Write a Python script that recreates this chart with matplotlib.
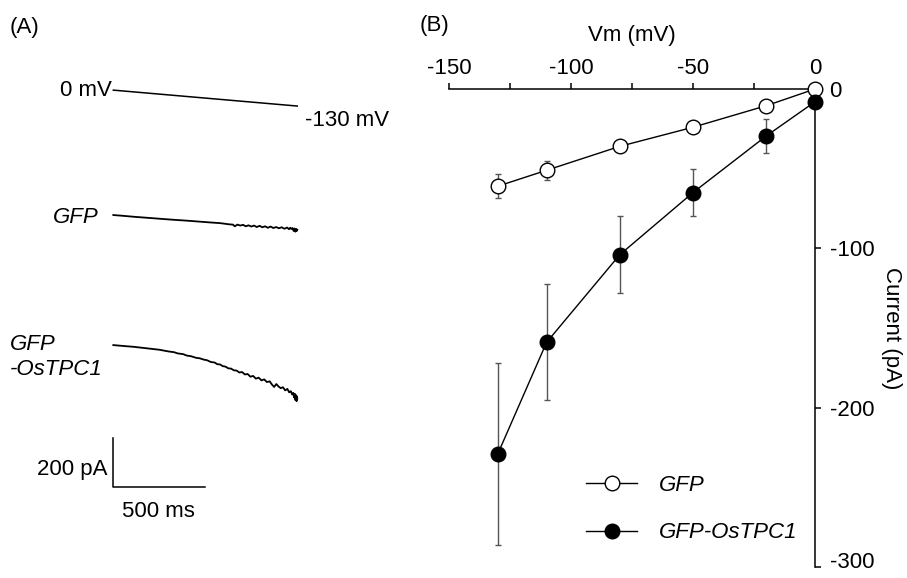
import matplotlib
matplotlib.use('Agg')
import matplotlib.pyplot as plt
from matplotlib.ticker import FixedLocator, FixedFormatter
from matplotlib.transforms import ScaledTranslation

plt.rcParams['font.family'] = ['Liberation Sans', 'DejaVu Sans']
plt.rcParams['font.size'] = 16
plt.rcParams['axes.unicode_minus'] = False

# ---- data: panel B, I-V curve ----
vm = [-130, -110, -80, -50, -20, 0]
gfp_mean = [-61, -51, -36, -24, -10.5, 0]
gfp_err = [7.7, 6, 3.5, 3, 2, 0.5]
tpc_mean = [-229, -159, -104, -65, -29.5, -8]
tpc_err = [57, 36.5, 24, 15, 10.5, 1]

x_ticks = [-150, -100, -50, 0]
y_ticks = [0, -100, -200, -300]

# ---- data: panel A, ramp protocol and example traces ----
ramp_t = [0, 1000]          # ms
ramp_v = [0, -130]          # mV

gfp_t = [0, 50, 110, 180, 250, 320, 400, 470, 540, 580, 610, 630, 650, 660, 675,
         690, 705, 720, 735, 750, 765, 780, 795, 810, 825, 840, 855, 870, 885,
         900, 915, 930, 945, 955, 962, 968, 974, 980, 985, 990, 994, 997, 1000]
gfp_i = [0, -3, -7, -11, -15, -19, -23, -27, -31, -33, -36, -38, -39, -46, -39,
         -43, -40, -46, -42, -47, -43, -49, -44, -50, -46, -52, -47, -53, -49,
         -54, -50, -56, -51, -58, -52, -57, -53, -65, -55, -68, -57, -65, -60]

tpc_t = [0, 60, 110, 180, 250, 300, 330, 350, 380, 400, 420, 450, 470, 490, 510,
         530, 550, 565, 580, 595, 610, 625, 640, 655, 670, 685, 700, 715, 730,
         745, 760, 775, 790, 805, 820, 835, 850, 862, 874, 886, 898, 910, 922,
         934, 946, 956, 965, 972, 978, 983, 987, 990, 993, 996, 998, 1000]
tpc_i = [0, -4, -7, -13, -19, -26, -29, -34, -37, -43, -45, -52, -54, -59, -62,
         -69, -71, -78, -79, -86, -88, -95, -96, -103, -104, -112, -110, -120, -118,
         -129, -126, -137, -133, -144, -140, -151, -148, -161, -171, -159, -169,
         -176, -172, -185, -179, -193, -188, -202, -195, -214, -199, -225, -204,
         -229, -209, -218]

fig = plt.figure(figsize=(9.07, 5.78), dpi=100)

# ---------------- panel A ----------------
axa = fig.add_axes([0, 0, 420 / 907, 1])
axa.set_xlim(-616, 1667)
axa.set_ylim(-1482, 878)
axa.axis('off')

ramp_off = 510       # vertical offsets of stacked traces (pA units)
tpc_off = -531
mv_scale = 0.5       # pA-equivalent per mV for drawing the protocol

axa.plot(ramp_t, [ramp_off + mv_scale * v for v in ramp_v], color='black', lw=1.1)
axa.plot(gfp_t, gfp_i, color='black', lw=1.3)
axa.plot(tpc_t, [tpc_off + i for i in tpc_i], color='black', lw=1.3)

axa.text(-8, ramp_off, '0 mV', ha='right', va='center')
axa.text(1042, 384, '-130 mV', ha='left', va='center')
axa.text(-78, -12, 'GFP', ha='right', va='center', style='italic')
axa.text(-561, -580, 'GFP\n-OsTPC1', ha='left', va='center', style='italic',
         linespacing=1.3)

# scale bars: 500 ms, 200 pA
bar_y = -1110
axa.plot([0, 0, 500], [bar_y + 200, bar_y, bar_y], color='black', lw=1.1)
axa.text(-34, -1041, '200 pA', ha='right', va='center')
axa.text(243, -1212, '500 ms', ha='center', va='center')

fig.text(10 / 907, 1 - 28 / 578, '(A)', ha='left', va='center')
fig.text(420 / 907, 1 - 25 / 578, '(B)', ha='left', va='center')

# ---------------- panel B ----------------
ax = fig.add_axes([449 / 907, 1 - 567 / 578, 366 / 907, 478 / 578])
ax.set_xlim(-150, 0)
ax.set_ylim(-300, 0)
ax.set_facecolor('none')
for s in ['left', 'bottom']:
    ax.spines[s].set_visible(False)
for s in ['top', 'right']:
    ax.spines[s].set_linewidth(1.1)

ax.xaxis.tick_top()
ax.yaxis.tick_right()
ax.xaxis.set_major_locator(FixedLocator(x_ticks))
ax.xaxis.set_minor_locator(FixedLocator([-125, -75, -25]))
ax.yaxis.set_major_locator(FixedLocator(y_ticks))
# the lowest label is drawn by hand a touch higher so it stays on the canvas
ax.yaxis.set_major_formatter(FixedFormatter([str(v) if v != -300 else '' for v in y_ticks]))
ax.tick_params(axis='x', which='both', direction='out', length=4.5, width=1.1, pad=3)
ax.tick_params(axis='y', which='both', direction='out', length=4.5, width=1.1, pad=6)
ax.text(0, -300, '-300', ha='left', va='center', clip_on=False,
        transform=ax.transData + ScaledTranslation(10.5 / 72, 3 / 72, fig.dpi_scale_trans))

ax.xaxis.set_label_position('top')
ax.set_xlabel('Vm (mV)', labelpad=12)
ax.yaxis.set_label_position('right')
ax.set_ylabel('Current (pA)', rotation=270, va='bottom', labelpad=5)

ax.errorbar(vm, gfp_mean, yerr=gfp_err, fmt='none', ecolor='#555555', elinewidth=1.0,
            capsize=2.5, capthick=1.0, clip_on=False, zorder=2)
ax.errorbar(vm, tpc_mean, yerr=tpc_err, fmt='none', ecolor='#555555', elinewidth=1.0,
            capsize=2.5, capthick=1.0, clip_on=False, zorder=2)
ax.plot(vm, gfp_mean, '-o', color='black', lw=1.0, ms=10.5, mfc='white', mec='black',
        mew=1.0, clip_on=False, zorder=3, label='GFP')
ax.plot(vm, tpc_mean, '-o', color='black', lw=1.0, ms=10.5, mfc='black', mec='black',
        mew=1.0, clip_on=False, zorder=4, label='GFP-OsTPC1')

ax.legend(loc='center left', bbox_to_anchor=(586 / 907, 1 - 509 / 578),
          bbox_transform=fig.transFigure, frameon=False, borderpad=0,
          borderaxespad=0, handlelength=2.3, handletextpad=1.0, labelspacing=1.2,
          prop={'style': 'italic', 'size': 16})

fig.savefig('out.png', dpi=100)
